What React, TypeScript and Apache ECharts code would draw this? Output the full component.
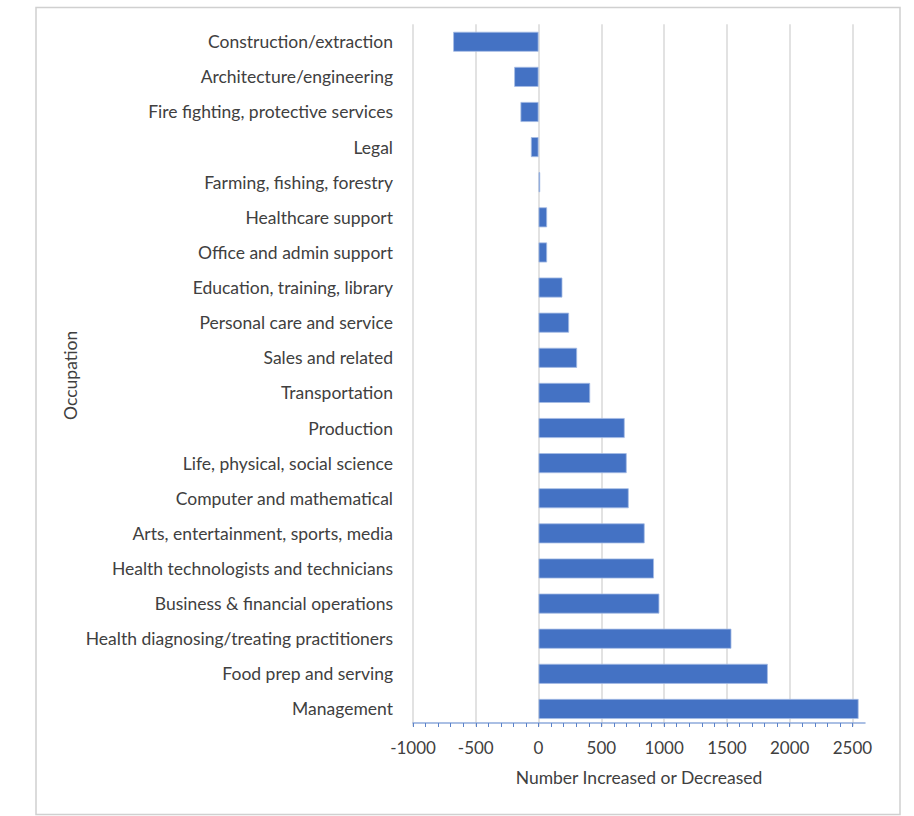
import React, { useEffect, useRef } from "react";
import * as echarts from "echarts";

const categories = [
  "Construction/extraction",
  "Architecture/engineering",
  "Fire fighting, protective services",
  "Legal",
  "Farming, fishing, forestry",
  "Healthcare support",
  "Office and admin support",
  "Education, training, library",
  "Personal care and service",
  "Sales and related",
  "Transportation",
  "Production",
  "Life, physical, social science",
  "Computer and mathematical",
  "Arts, entertainment, sports, media",
  "Health technologists and technicians",
  "Business & financial operations",
  "Health diagnosing/treating practitioners",
  "Food prep and serving",
  "Management",
];

const values = [
  -680, -194, -144, -61, 13, 68, 68, 190, 243, 307, 411, 686, 702, 718, 845, 919, 962, 1536, 1826, 2549,
];

const xMin = -1000;
const xMax = 2600;
const tickStep = 100;
const labelStep = 500;

const FONT = "Lato";
const TEXT = "#404040";

export default function App() {
  const ref = useRef<HTMLDivElement>(null);
  useEffect(() => {
    document.body.style.margin = "0";
    if (!ref.current) return;
    const chart = echarts.init(ref.current, null, { renderer: "svg" });
    const gridLeft = 413;
    const gridRight = 914 - 865;
    const gridTop = 24.2;
    const gridBottom = 816 - 726.5;
    const splitColors = ["#d9d9d9", "rgba(0,0,0,0)", "rgba(0,0,0,0)", "rgba(0,0,0,0)", "rgba(0,0,0,0)"];
    chart.setOption({
      animation: false,
      backgroundColor: "#ffffff",
      textStyle: { fontFamily: FONT, color: TEXT },
      graphic: [
        {
          type: "rect",
          shape: { x: 36, y: 7.5, width: 864, height: 807 },
          style: { fill: "none", stroke: "#d0d0d0", lineWidth: 1.5 },
          silent: true,
          z: -10,
        },
      ],
      grid: { left: gridLeft, right: gridRight, top: gridTop, bottom: gridBottom, containLabel: false },
      xAxis: {
        type: "value",
        min: xMin,
        max: xMax,
        interval: tickStep,
        offset: -3.5,
        name: "Number Increased or Decreased",
        nameLocation: "middle",
        nameGap: 45,
        nameTextStyle: { fontFamily: FONT, fontSize: 17.5, color: TEXT },
        axisLine: { show: true, lineStyle: { color: "#8eaadb", width: 1.5 } },
        axisTick: { show: true, inside: false, length: 4, lineStyle: { color: "#5b82c9", width: 1 } },
        axisLabel: {
          fontFamily: FONT,
          fontSize: 17,
          color: TEXT,
          margin: 16,
          showMaxLabel: false,
          formatter: (v: number) => (v % labelStep === 0 ? String(v) : ""),
        },
        splitLine: { show: true, lineStyle: { color: splitColors, width: 1.5 } },
      },
      yAxis: {
        type: "category",
        data: categories,
        inverse: true,
        name: "Occupation",
        nameLocation: "middle",
        nameGap: 334,
        nameRotate: 90,
        nameTextStyle: { fontFamily: FONT, fontSize: 17.5, color: TEXT },
        axisLine: { show: false },
        axisTick: { show: false },
        axisLabel: { fontFamily: FONT, fontSize: 17.5, color: TEXT, margin: 20 },
        splitLine: { show: false },
      },
      series: [
        {
          type: "bar",
          data: values,
          barWidth: 20,
          itemStyle: { color: "#4472c4", borderColor: "#a4bbe4", borderWidth: 0.8 },
        },
      ],
    });
    return () => chart.dispose();
  }, []);
  return <div ref={ref} style={{ width: 914, height: 816 }} />;
}
